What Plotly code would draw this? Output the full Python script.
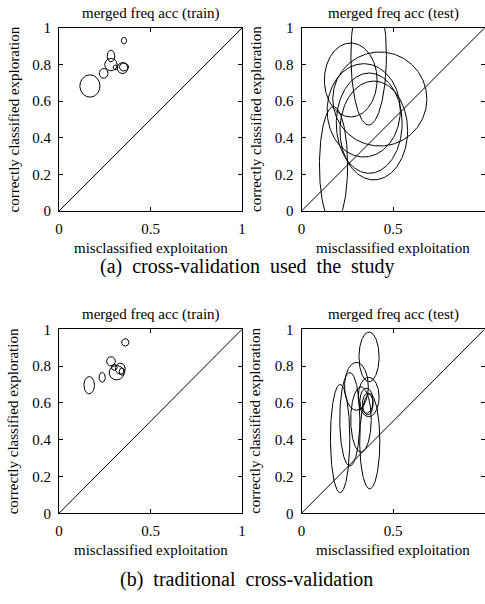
import numpy as np
import plotly.graph_objects as go

W, H = 485, 604
FONT = "Liberation Serif"

# ---- data: ellipse centres (x, y) and radii (rx, ry) per panel ----
tl_cx = [0.169, 0.244, 0.284, 0.284, 0.309, 0.347, 0.355, 0.355]
tl_cy = [0.683, 0.752, 0.847, 0.800, 0.785, 0.781, 0.787, 0.931]
tl_rx = [0.055, 0.024, 0.021, 0.034, 0.013, 0.029, 0.025, 0.0145]
tl_ry = [0.061, 0.027, 0.032, 0.034, 0.013, 0.030, 0.022, 0.018]

tr_cx = [0.367, 0.269, 0.428, 0.340, 0.370, 0.395, 0.175]
tr_cy = [0.850, 0.716, 0.612, 0.550, 0.480, 0.440, 0.250]
tr_rx = [0.097, 0.144, 0.257, 0.200, 0.180, 0.185, 0.077]
tr_ry = [0.380, 0.202, 0.257, 0.255, 0.274, 0.270, 0.320]

bl_cx = [0.165, 0.236, 0.284, 0.315, 0.302, 0.335, 0.344, 0.362]
bl_cy = [0.696, 0.739, 0.826, 0.764, 0.793, 0.786, 0.770, 0.929]
bl_rx = [0.029, 0.017, 0.024, 0.041, 0.016, 0.027, 0.015, 0.020]
bl_ry = [0.047, 0.027, 0.025, 0.039, 0.016, 0.030, 0.020, 0.020]

br_cx = [0.369, 0.300, 0.264, 0.211, 0.325, 0.373, 0.367, 0.355, 0.362]
br_cy = [0.850, 0.690, 0.511, 0.406, 0.510, 0.391, 0.632, 0.612, 0.594]
br_rx = [0.055, 0.065, 0.055, 0.053, 0.056, 0.055, 0.057, 0.036, 0.029]
br_ry = [0.135, 0.130, 0.254, 0.294, 0.177, 0.258, 0.107, 0.068, 0.059]

x_ticks = [0, 0.5, 1]
x_ticklabels = ["0", "0.5", "1"]
y_ticks = [0, 0.2, 0.4, 0.6, 0.8, 1]
y_ticklabels = ["0", "0.2", "0.4", "0.6", "0.8", "1"]

panel_titles = ["merged freq acc (train)", "merged freq acc (test)",
                "merged freq acc (train)", "merged freq acc (test)"]
x_title = "misclassified exploitation"
y_title = "correctly classified exploration"
captions = ["(a)\u2002cross-validation\u2002used\u2002the\u2002study",
            "(b)\u2002traditional\u2002cross-validation"]

# ---- layout geometry (pixels) ----
cols = [(59, 242), (301.5, 484.5)]
rows = [(28, 211), (329.3, 513.3)]

def px(v):
    return v / W

def py(v):
    return (H - v) / H

fig = go.Figure()

panels = [
    (tl_cx, tl_cy, tl_rx, tl_ry, 0, 0),
    (tr_cx, tr_cy, tr_rx, tr_ry, 0, 1),
    (bl_cx, bl_cy, bl_rx, bl_ry, 1, 0),
    (br_cx, br_cy, br_rx, br_ry, 1, 1),
]

t = np.linspace(0, 2 * np.pi, 241)
line_style = dict(color="black", width=1)

for i, (cx, cy, rx, ry, r, c) in enumerate(panels):
    n = i + 1
    xa = "x" if n == 1 else f"x{n}"
    ya = "y" if n == 1 else f"y{n}"
    for a, b, ra, rb in zip(cx, cy, rx, ry):
        fig.add_trace(go.Scatter(
            x=a + ra * np.cos(t), y=b + rb * np.sin(t),
            mode="lines", line=line_style, xaxis=xa, yaxis=ya,
            hoverinfo="skip", showlegend=False))
    fig.add_trace(go.Scatter(
        x=[0, 1], y=[0, 1], mode="lines", line=line_style,
        xaxis=xa, yaxis=ya, hoverinfo="skip", showlegend=False))

    x0, x1 = cols[c]
    y0, y1 = rows[r]
    axis_common = dict(
        range=[0, 1], showgrid=False, zeroline=False, automargin=False,
        showline=True, linecolor="black", linewidth=1, mirror="allticks",
        ticks="inside", ticklen=4, tickcolor="black", tickwidth=1,
        tickfont=dict(family=FONT, size=15, color="black"),
        fixedrange=True,
    )
    fig.update_layout(**{
        ("xaxis" if n == 1 else f"xaxis{n}"): dict(
            axis_common, domain=[px(x0), px(x1)],
            anchor=ya, tickvals=x_ticks, ticktext=x_ticklabels,
            ticklabelstandoff=4),
        ("yaxis" if n == 1 else f"yaxis{n}"): dict(
            axis_common, domain=[py(y1), py(y0)],
            anchor=xa, tickvals=y_ticks, ticktext=y_ticklabels,
            ticklabelstandoff=4),
    })

annotations = []
def add_text(text, x, y, size=15, angle=0):
    annotations.append(dict(
        text=text, x=px(x), y=py(y), xref="paper", yref="paper",
        xanchor="center", yanchor="middle", showarrow=False,
        textangle=angle, font=dict(family=FONT, size=size, color="black")))

for r, (y0, y1) in enumerate(rows):
    for c, (x0, x1) in enumerate(cols):
        add_text(panel_titles[r * 2 + c], (x0 + x1) / 2, y0 - 15)
        add_text(x_title, (x0 + x1) / 2, y1 + 37)
        add_text(y_title, x0 - 46, (y0 + y1) / 2, angle=-90)

add_text(captions[0], 246.7, 266, size=20)
add_text(captions[1], 246.7, 579, size=20)

fig.update_layout(
    width=W, height=H,
    margin=dict(l=0, r=0, t=0, b=0),
    paper_bgcolor="white", plot_bgcolor="white",
    annotations=annotations,
    showlegend=False,
)

fig.write_html(
    "out.html",
    config={"displayModeBar": False, "staticPlot": True},
    post_script="document.body.style.margin='0';"
                "document.body.style.overflow='hidden';",
)
